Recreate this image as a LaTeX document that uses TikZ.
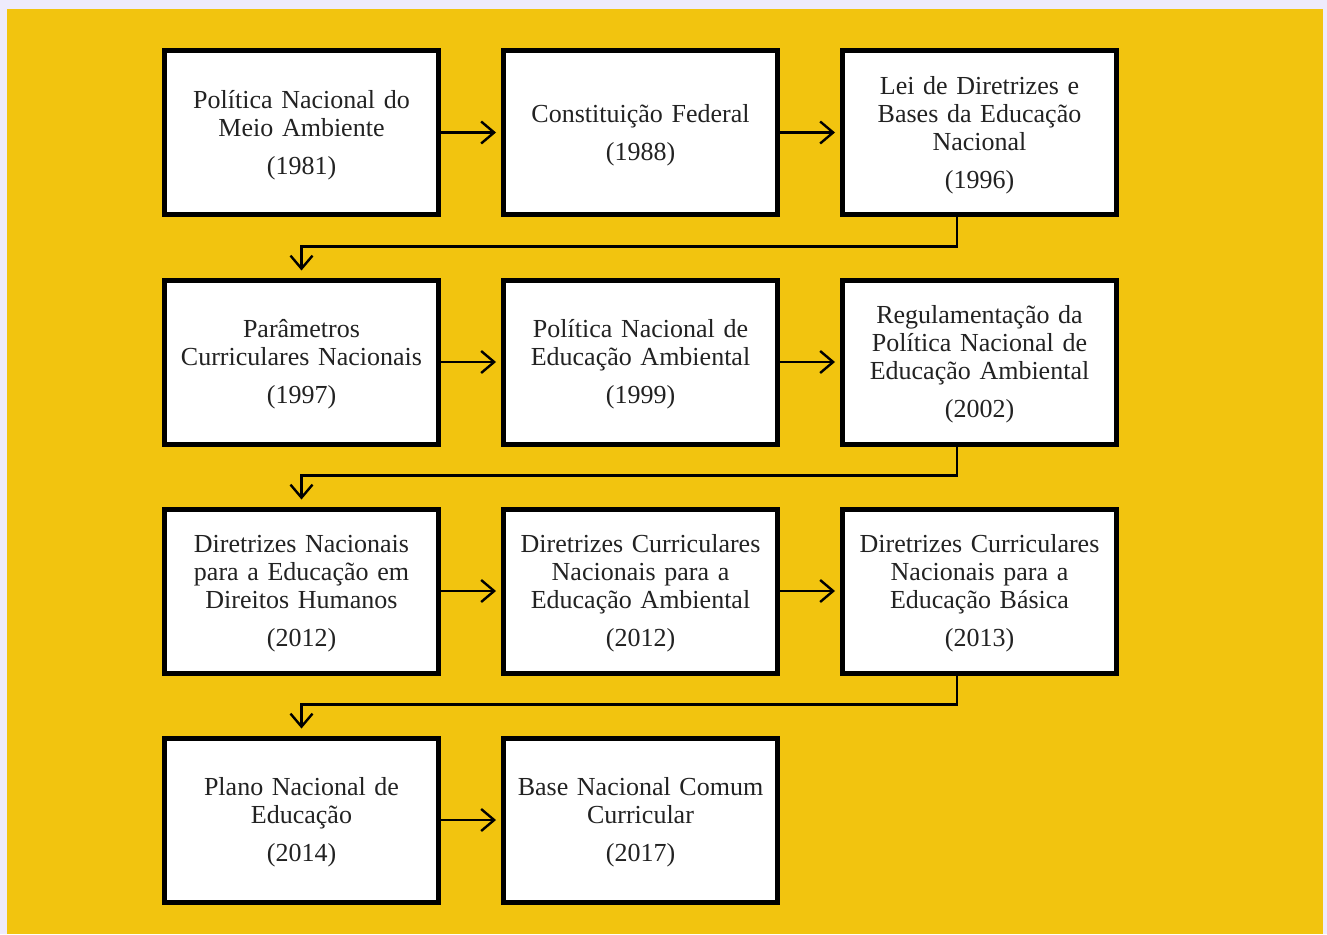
\documentclass[tikz,border=0pt]{standalone}
\usepackage{fontspec}
\setmainfont[WordSpace=0.85]{Liberation Serif}
\usetikzlibrary{arrows.meta,calc}
\definecolor{bgyellow}{HTML}{F2C40F}
\definecolor{lav}{HTML}{EEEBFC}
\definecolor{txt}{HTML}{222222}
\begin{document}
\begin{tikzpicture}[x=1pt,y=-1pt,
  box/.style={draw=black,line width=5pt,fill=white,minimum width=274pt,minimum height=164pt,
    inner sep=0pt,text width=270pt,align=center,text=txt,font=\fontsize{26}{28}\selectfont,
    execute at begin node={\rule{0pt}{23pt}}},
  conn/.style={line width=2.4pt,-{Straight Barb[length=13pt,width=22pt,line width=2.4pt]}}]
\useasboundingbox (0,0) rectangle (1327,934);
\fill[lav] (0,0) rectangle (1327,934);
\fill[bgyellow] (7,9) rectangle (1323,934);
% row 1
\node[box] (a1) at (301.5,132.5) {Política Nacional do\\Meio Ambiente\\[10pt](1981)};
\node[box] (a2) at (640.5,132.5) {Constituição Federal\\[10pt](1988)};
\node[box] (a3) at (979.5,132.5) {Lei de Diretrizes e\\Bases da Educação\\Nacional\\[10pt](1996)};
% row 2
\node[box] (b1) at (301.5,362) {Parâmetros\\Curriculares Nacionais\\[10pt](1997)};
\node[box] (b2) at (640.5,362) {Política Nacional de\\Educação Ambiental\\[10pt](1999)};
\node[box] (b3) at (979.5,362) {Regulamentação da\\Política Nacional de\\Educação Ambiental\\[10pt](2002)};
% row 3
\node[box] (c1) at (301.5,591) {Diretrizes Nacionais\\para a Educação em\\Direitos Humanos\\[10pt](2012)};
\node[box] (c2) at (640.5,591) {Diretrizes Curriculares\\Nacionais para a\\Educação Ambiental\\[10pt](2012)};
\node[box] (c3) at (979.5,591) {Diretrizes Curriculares\\Nacionais para a\\Educação Básica\\[10pt](2013)};
% row 4
\node[box] (d1) at (301.5,820) {Plano Nacional de\\Educação\\[10pt](2014)};
\node[box] (d2) at (640.5,820) {Base Nacional Comum\\Curricular\\[10pt](2017)};
% horizontal arrows
\draw[conn,shorten >=5pt] (a1.east) -- (a2.west);
\draw[conn,shorten >=5pt] (a2.east) -- (a3.west);
\draw[conn,shorten >=5pt] (b1.east) -- (b2.west);
\draw[conn,shorten >=5pt] (b2.east) -- (b3.west);
\draw[conn,shorten >=5pt] (c1.east) -- (c2.west);
\draw[conn,shorten >=5pt] (c2.east) -- (c3.west);
\draw[conn,shorten >=5pt] (d1.east) -- (d2.west);
% row-to-row connectors
\coordinate (k1) at (301.5,246.5);
\coordinate (k2) at (301.5,475.5);
\coordinate (k3) at (301.5,704.5);
\draw[conn,shorten >=7pt] ([xshift=-22.5pt]a3.south) |- (k1) -- (b1.north);
\draw[conn,shorten >=7pt] ([xshift=-22.5pt]b3.south) |- (k2) -- (c1.north);
\draw[conn,shorten >=7pt] ([xshift=-22.5pt]c3.south) |- (k3) -- (d1.north);
\end{tikzpicture}
\end{document}
